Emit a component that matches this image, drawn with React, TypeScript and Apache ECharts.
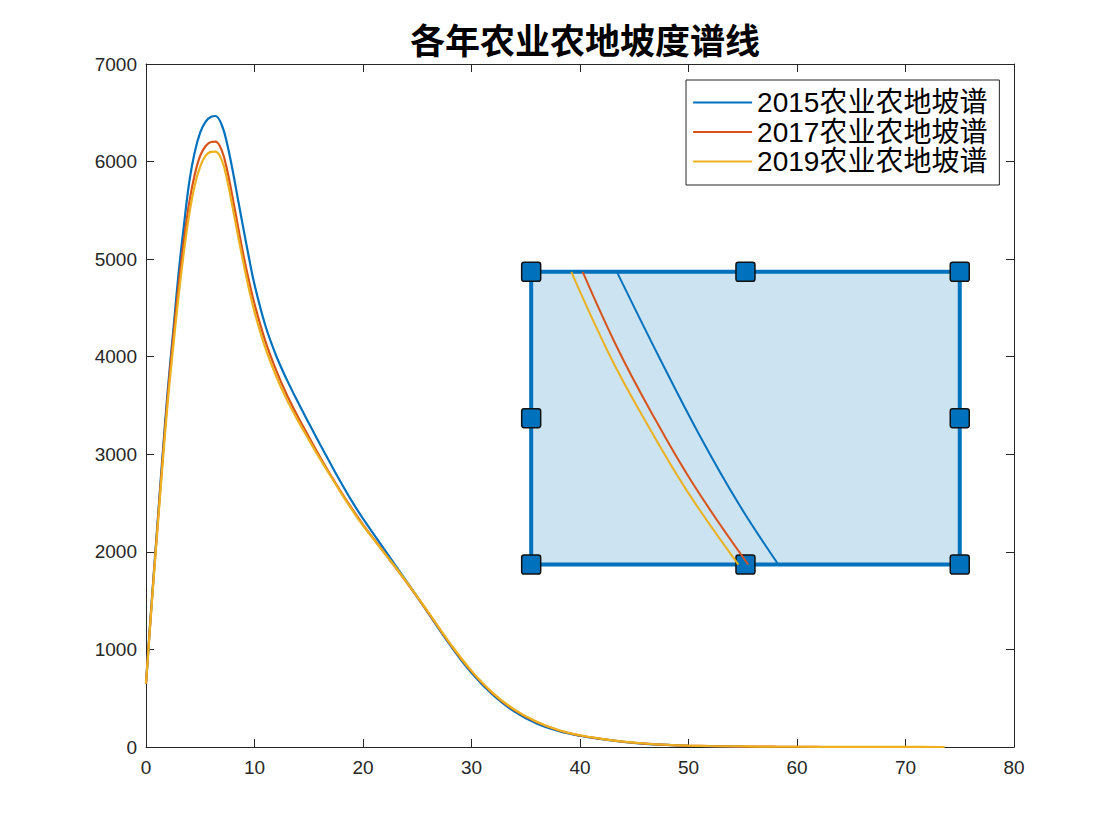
import React, { useEffect, useRef } from "react";
import * as echarts from "echarts";

// ---- data ----
const titleText = "各年农业农地坡度谱线";
const seriesNames = ["2015农业农地坡谱", "2017农业农地坡谱", "2019农业农地坡谱"];
const seriesColors = ["#0072BD", "#D95319", "#EDB120"];

const slopeX = [
  0, 0.5, 1, 1.5, 2, 2.5, 3, 3.5, 4, 4.5,
  5, 5.5, 6, 6.4, 7, 7.5, 8, 8.5, 9, 9.5,
  10, 11, 12, 13, 14, 15, 16, 17, 18, 19,
  20, 22, 24, 26, 28, 30, 32, 34, 36, 38,
  40, 42, 44, 46, 48, 50, 52, 55, 58, 62,
  66, 70, 73.6,
];

const area2015 = [
  650, 1450, 2200, 2950, 3650, 4250, 4850, 5350, 5800, 6100,
  6300, 6410, 6460, 6467, 6370, 6170, 5900, 5600, 5300, 5010,
  4740, 4320, 4010, 3760, 3535, 3320, 3110, 2905, 2705, 2515,
  2340, 2020, 1700, 1375, 1050, 760, 530, 360, 240, 165,
  115, 80, 52, 33, 21, 13, 8, 4, null, null,
  null, null, null,
];

const area2017 = [
  650, 1440, 2180, 2910, 3600, 4190, 4730, 5200, 5590, 5870,
  6060, 6160, 6200, 6204, 6110, 5900, 5620, 5320, 5030, 4770,
  4540, 4160, 3860, 3605, 3385, 3180, 2980, 2790, 2610, 2440,
  2280, 1985, 1690, 1380, 1060, 775, 545, 375, 255, 172,
  118, 82, 54, 35, 22, 14, 9, 5, 3, 1.5,
  null, null, null,
];

const area2019 = [
  650, 1420, 2150, 2860, 3530, 4090, 4620, 5080, 5470, 5760,
  5950, 6060, 6100, 6101, 6010, 5800, 5520, 5230, 4950, 4690,
  4460, 4090, 3800, 3555, 3345, 3150, 2960, 2780, 2600, 2430,
  2270, 1985, 1695, 1385, 1065, 780, 550, 380, 260, 175,
  120, 84, 56, 36, 23, 15, 10, 6, 3.5, 2,
  1, 0.5, 0,
];

// rectangle (ROI) drawn on the axes
const roiX = [35.5, 75];
const roiY = [1870, 4870];

// lines drawn inside the rectangle
const inner2015X = [43.4, 47.27, 50.99, 54.58, 58.28];
const inner2015Y = [4870, 4000, 3200, 2500, 1870];
const inner2017X = [40.25, 43.4, 46.45, 50.4, 55.5];
const inner2017Y = [4870, 4100, 3455, 2700, 1870];
const inner2019X = [39.2, 42.8, 45.8, 49.8, 54.6];
const inner2019Y = [4870, 4000, 3385, 2635, 1870];

const xMin = 0, xMax = 80, xStep = 10;
const yMin = 0, yMax = 7000, yStep = 1000;

const pairs = (xs: number[], ys: (number | null)[]) =>
  xs.map((x, i) => [x, ys[i]]).filter((p) => p[1] !== null && p[1] !== undefined);

const handleIcon =
  "path://M2.5,0H17.5A2.5,2.5,0,0,1,20,2.5V17.5A2.5,2.5,0,0,1,17.5,20H2.5A2.5,2.5,0,0,1,0,17.5V2.5A2.5,2.5,0,0,1,2.5,0Z";

export default function App() {
  const ref = useRef<HTMLDivElement>(null);

  useEffect(() => {
    document.body.style.margin = "0";
    if (!ref.current) return;
    const chart = echarts.init(ref.current, undefined, { renderer: "svg" });

    const axisColor = "#262626";
    const labelFont = "'Liberation Sans', Arial, Helvetica, sans-serif";
    const cjkFont = "'Liberation Sans', 'Noto Sans CJK SC', sans-serif";

    const baseX = {
      type: "value",
      min: xMin,
      max: xMax,
      interval: xStep,
      splitLine: { show: false },
      axisLine: { show: true, onZero: false, lineStyle: { color: axisColor, width: 1 } },
      axisTick: { show: true, inside: true, length: 8, lineStyle: { color: axisColor } },
    };
    const baseY = {
      type: "value",
      min: yMin,
      max: yMax,
      interval: yStep,
      splitLine: { show: false },
      axisLine: { show: true, onZero: false, lineStyle: { color: axisColor, width: 1 } },
      axisTick: { show: true, inside: true, length: 8, lineStyle: { color: axisColor } },
    };

    const mainData = [area2015, area2017, area2019];
    const mainSeries = seriesNames.map((name, i) => ({
      name,
      type: "line",
      data: pairs(slopeX, mainData[i]),
      smooth: 0.4,
      symbol: "none",
      showSymbol: false,
      lineStyle: { color: seriesColors[i], width: 2.2 },
      itemStyle: { color: seriesColors[i] },
      z: 3 + i,
    }));

    const innerSets = [
      [inner2015X, inner2015Y],
      [inner2017X, inner2017Y],
      [inner2019X, inner2019Y],
    ];
    const innerSeries = innerSets.map((s, i) => ({
      name: "inner" + i,
      type: "line",
      data: pairs(s[0] as number[], s[1] as number[]),
      smooth: 0.4,
      symbol: "none",
      showSymbol: false,
      lineStyle: { color: seriesColors[i], width: 2 },
      z: 12 + i,
      silent: true,
    }));

    const midX = (roiX[0] + roiX[1]) / 2;
    const midY = (roiY[0] + roiY[1]) / 2;
    const handles = [
      [roiX[0], roiY[0]], [midX, roiY[0]], [roiX[1], roiY[0]],
      [roiX[0], midY], [roiX[1], midY],
      [roiX[0], roiY[1]], [midX, roiY[1]], [roiX[1], roiY[1]],
    ];

    chart.setOption({
      animation: false,
      backgroundColor: "#ffffff",
      title: {
        text: titleText,
        left: 580,
        textAlign: "center",
        top: 16,
        textStyle: {
          fontSize: 35,
          fontWeight: "bold",
          color: "#000",
          fontFamily: "'Noto Sans CJK SC', sans-serif",
        },
      },
      legend: {
        data: seriesNames,
        orient: "vertical",
        left: 686,
        top: 80,
        itemWidth: 59,
        itemHeight: 29,
        itemGap: 0.5,
        padding: [8, 12, 9, 6],
        borderColor: axisColor,
        borderWidth: 1,
        backgroundColor: "#ffffff",
        itemStyle: { opacity: 0 },
        lineStyle: { width: 2.2 },
        textStyle: { fontSize: 28, color: "#000", fontFamily: cjkFont, lineHeight: 29 },
      },
      grid: { left: 146, right: 106, top: 64, bottom: 93, containLabel: false },
      xAxis: [
        {
          ...baseX,
          position: "bottom",
          axisLabel: { color: axisColor, fontSize: 19, margin: 11, fontFamily: labelFont },
        },
        { ...baseX, position: "top", axisLabel: { show: false } },
      ],
      yAxis: [
        {
          ...baseY,
          position: "left",
          axisLabel: {
            color: axisColor,
            fontSize: 19,
            margin: 9,
            fontFamily: labelFont,
            formatter: (v: number) => String(v),
          },
        },
        { ...baseY, position: "right", axisLabel: { show: false } },
      ],
      series: [
        ...mainSeries,
        {
          name: "roi",
          type: "custom",
          z: 10,
          silent: true,
          data: [[roiX[0], roiY[0]]],
          renderItem: (_params: any, api: any) => {
            const p0 = api.coord([roiX[0], roiY[1]]);
            const p1 = api.coord([roiX[1], roiY[0]]);
            return {
              type: "rect",
              shape: { x: p0[0], y: p0[1], width: p1[0] - p0[0], height: p1[1] - p0[1] },
              style: { fill: "#CCE3F2", stroke: "#0072BD", lineWidth: 4 },
            };
          },
        },
        {
          name: "handles",
          type: "scatter",
          data: handles,
          symbol: handleIcon,
          symbolSize: 19,
          itemStyle: { color: "#0072BD", borderColor: "#111", borderWidth: 1.5, opacity: 1 },
          z: 11,
          silent: true,
        },
        ...innerSeries,
      ],
    });

    return () => chart.dispose();
  }, []);

  return <div ref={ref} style={{ width: 1120, height: 840 }} />;
}
